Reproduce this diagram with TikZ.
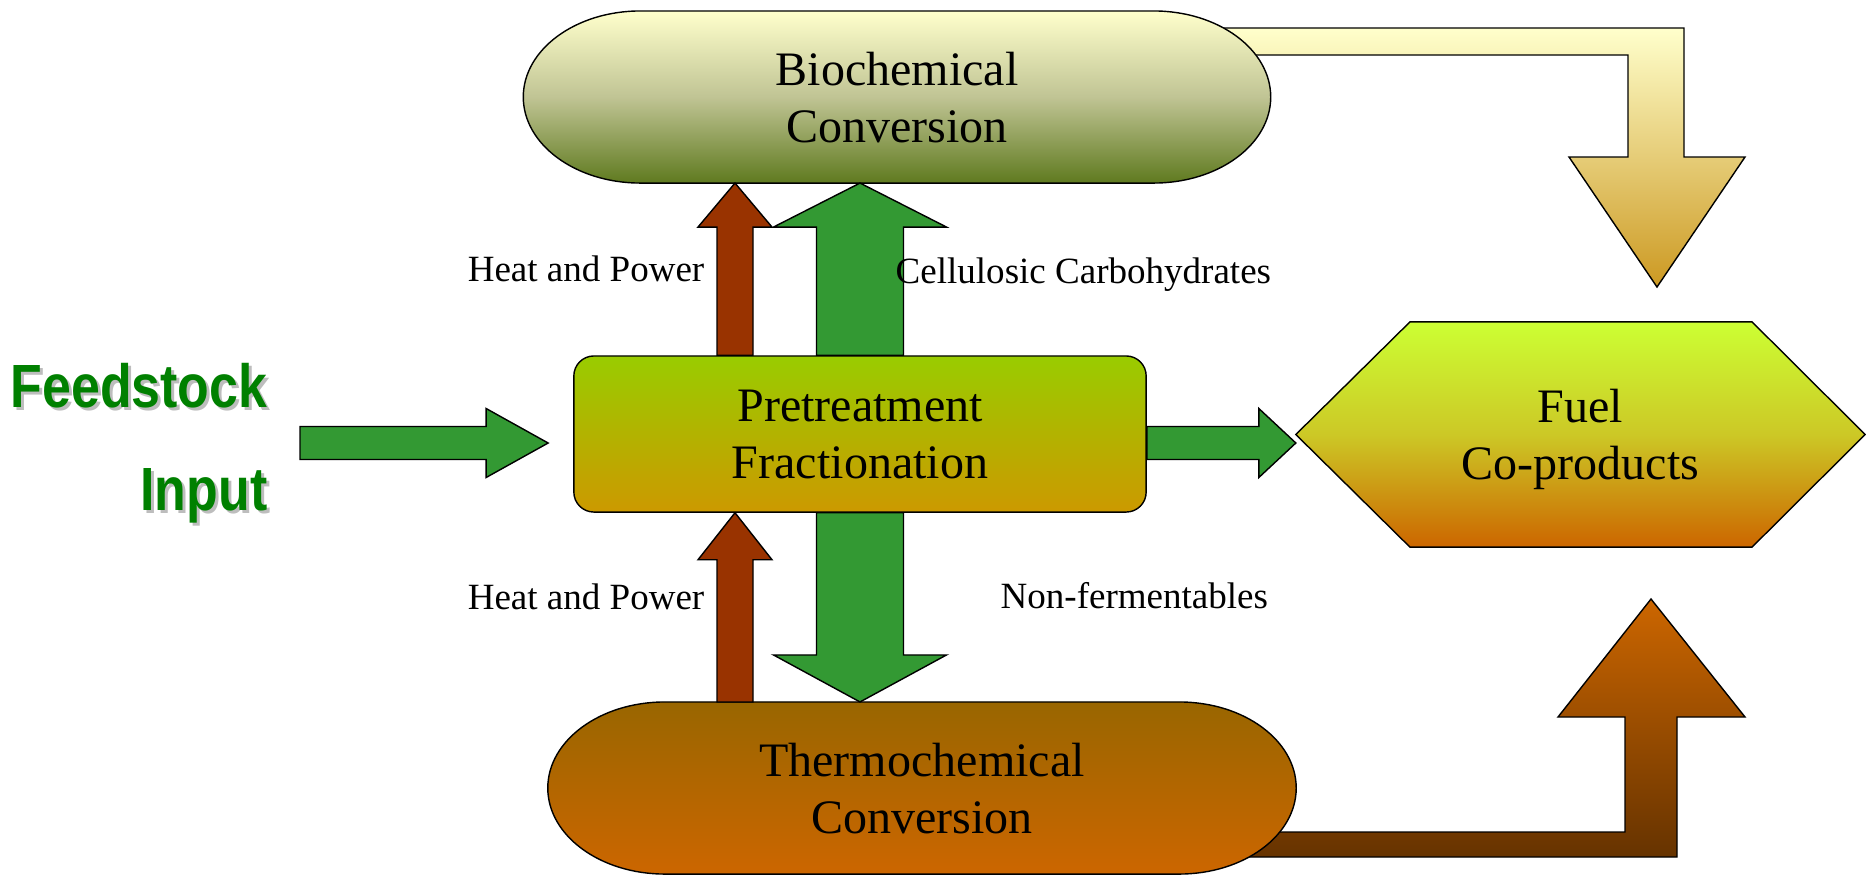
\documentclass[tikz,border=0pt]{standalone}
\usepackage{fontspec}
\setmainfont{Liberation Serif}
\newfontfamily\feedfont[FakeStretch=0.85]{Liberation Sans}
\usetikzlibrary{calc,backgrounds}

\definecolor{arrowgreen}{HTML}{339933}
\definecolor{arrowbrown}{HTML}{993300}
\definecolor{feedgreen}{HTML}{008000}
\definecolor{feedshadow}{HTML}{BDBDBD}
\definecolor{biotop}{HTML}{FFFFCC}
\definecolor{biomid}{HTML}{C0C494}
\definecolor{biobottom}{HTML}{5F7A1F}
\definecolor{thermotop}{HTML}{996600}
\definecolor{thermobottom}{HTML}{CC6600}
\definecolor{pretop}{HTML}{99CC00}
\definecolor{prebottom}{HTML}{CC9900}
\definecolor{fueltop}{HTML}{CCFF33}
\definecolor{fuelmid}{HTML}{CCC826}
\definecolor{fuelbottom}{HTML}{CC6600}
\definecolor{bendtop}{HTML}{FFFFCC}
\definecolor{bendbottom}{HTML}{CC9922}
\definecolor{returntop}{HTML}{CC6600}
\definecolor{returnbottom}{HTML}{663300}

% block arrows: style, base, tip, shaft half width, head half width, head length
\newcommand{\vblock}[6]{\draw[#1] ($(#2)+(-#4,0)$) -- ($(#3)+(-#4,{-(#6)})$) -- ($(#3)+(-#5,{-(#6)})$) -- (#3)
    -- ($(#3)+(#5,{-(#6)})$) -- ($(#3)+(#4,{-(#6)})$) -- ($(#2)+(#4,0)$) -- cycle;}
\newcommand{\hblock}[6]{\draw[#1] ($(#2)+(0,#4)$) -- ($(#3)+({-(#6)},#4)$) -- ($(#3)+({-(#6)},#5)$) -- (#3)
    -- ($(#3)+({-(#6)},-#5)$) -- ($(#3)+({-(#6)},-#4)$) -- ($(#2)+(0,-#4)$) -- cycle;}

\tikzset{
    line cap=round,line join=round,
    outline/.style={draw=black,line width=0.4pt},
    greenarrow/.style={outline,fill=arrowgreen},
    brownarrow/.style={outline,fill=arrowbrown},
    bigtext/.style={font=\fontsize{13.66pt}{16.2pt}\selectfont,align=center,text depth=0pt},
    smalltext/.style={font=\fontsize{10.53pt}{12.6pt}\selectfont,inner sep=0pt},
    feedtext/.style={font=\feedfont\bfseries\fontsize{17.36pt}{20pt}\selectfont,inner sep=0pt},
    termnode/.style={bigtext,minimum width=#1,minimum height=1.72cm,inner sep=0pt,outer sep=0pt},
    term path/.style={insert path={([xshift=1.17cm]#1.north west) -- ([xshift=-1.17cm]#1.north east)
        arc[start angle=90,end angle=-90,x radius=1.17cm,y radius=0.86cm]
        -- ([xshift=1.17cm]#1.south west)
        arc[start angle=270,end angle=90,x radius=1.17cm,y radius=0.86cm] -- cycle}},
    hex path/.style={insert path={(#1.west) -- ([xshift=1.14cm]#1.north west) -- ([xshift=-1.13cm]#1.north east)
        -- (#1.east) -- ([xshift=-1.13cm]#1.south east) -- ([xshift=1.14cm]#1.south west) -- cycle}},
}

\begin{document}
\begin{tikzpicture}[x=0.01cm,y=0.01cm]
    \useasboundingbox (0,0) rectangle (1866,-875);

    % process blocks
    \node[termnode=7.47cm] (bio) at (897,-97) {Biochemical\\Conversion};
    \node[termnode=7.48cm] (thermo) at (922,-788) {Thermochemical\\Conversion};
    \node[bigtext,minimum width=5.69cm,minimum height=2.25cm,inner sep=0pt,outer sep=0pt] (fuel) at (1580.5,-434.5) {Fuel\\Co-products};
    \node[bigtext,outline,rounded corners=0.2cm,minimum width=5.72cm,minimum height=1.56cm,
        top color=pretop,bottom color=prebottom] (pre) at (860,-434) {Pretreatment\\Fractionation};

    \coordinate (biotip) at (1657,-287);
    \coordinate (thermotip) at (1651,-599);
    \begin{scope}[on background layer]
        \path[outline,top color=bendtop,bottom color=bendbottom] (1150,-28) -- (1684,-28) -- (1684,-157)
            -- (1745,-157) -- (biotip) -- (1569,-157) -- (1628,-157) -- (1628,-55) -- (1150,-55) -- cycle;
        \path[outline,top color=returntop,bottom color=returnbottom] (1150,-832) -- (1625,-832) -- (1625,-717)
            -- (1558,-717) -- (thermotip) -- (1745,-717) -- (1677,-717) -- (1677,-857) -- (1150,-857) -- cycle;
        \path[outline,top color=biotop,bottom color=biobottom,middle color=biomid,term path=bio];
        \path[outline,top color=thermotop,bottom color=thermobottom,term path=thermo];
        \path[outline,top color=fueltop,bottom color=fuelbottom,middle color=fuelmid,hex path=fuel];
    \end{scope}

    % streams between the blocks
    \coordinate (hpup) at ($(pre.north)+(-125,0)$);
    \coordinate (hpuptip) at (hpup |- bio.south);
    \coordinate (cellup) at (pre.north |- bio.south);
    \coordinate (hpdown) at ($(pre.south)+(-125,0)$);
    \coordinate (hpdownbase) at (hpdown |- thermo.north);
    \coordinate (nfdown) at (pre.south |- thermo.north);
    \coordinate (feedstart) at (300,-443);
    \coordinate (feedtip) at ($(pre.west)+(-25,-9)$);
    \coordinate (fuelin) at ($(pre.east)+(0,-9)$);
    \coordinate (fueltip) at ($(fuel.west)+(0,-8.5)$);

    \vblock{brownarrow}{hpup}{hpuptip}{18}{37}{44}
    \vblock{greenarrow}{pre.north}{cellup}{43.5}{86.5}{44}
    \vblock{brownarrow}{hpdownbase}{hpdown}{18}{37}{47}
    \vblock{greenarrow}{pre.south}{nfdown}{43.5}{86.5}{-47}
    \hblock{greenarrow}{feedstart}{feedtip}{16.5}{34.5}{62}
    \hblock{greenarrow}{fuelin}{fueltip}{16.5}{34.5}{37}

    % labels
    \node[smalltext,anchor=base east] (hpuplabel) at (705,-281) {Heat and Power};
    \node[smalltext,anchor=base east] (hpdownlabel) at (705,-609) {Heat and Power};
    \node[smalltext,anchor=base west] (celllabel) at (895,-283) {Cellulosic Carbohydrates};
    \node[smalltext,anchor=base west] (nflabel) at (1000,-608) {Non-fermentables};

    \node[feedtext,text=feedshadow,anchor=base east] (feedshadowA) at (271,-410) {Feedstock};
    \node[feedtext,text=feedgreen,anchor=base east] (feedA) at (268,-407) {Feedstock};
    \node[feedtext,text=feedshadow,anchor=base east] (feedshadowB) at (271,-513) {Input};
    \node[feedtext,text=feedgreen,anchor=base east] (feedB) at (268,-510) {Input};
\end{tikzpicture}
\end{document}
